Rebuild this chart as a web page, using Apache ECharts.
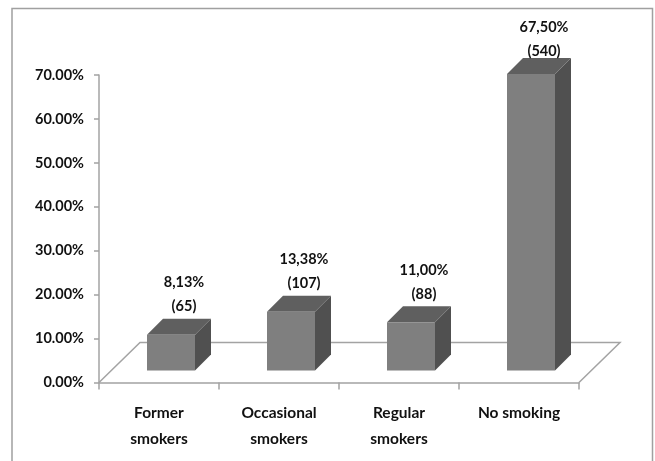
<!DOCTYPE html>
<html>
<head>
<meta charset="utf-8">
<style>html,body{margin:0;padding:0;background:#fff}#chart{width:655px;height:461px}</style>
<script src="https://cdn.jsdelivr.net/npm/echarts@6/dist/echarts.min.js"></script>
</head>
<body>
<div id="chart"></div>
<script>
// Smoking status of respondents: share of the sample and head count
const categories = ['Former\nsmokers', 'Occasional\nsmokers', 'Regular\nsmokers', 'No smoking'];
const shares = [8.13, 13.38, 11.00, 67.50];
const counts = [65, 107, 88, 540];
const shareLabels = ['8,13%', '13,38%', '11,00%', '67,50%'];

const FONT = 'Lato, "Open Sans", sans-serif';
const TEXT_SIZE = 15.5;
const NUMBER_SIZE = 14.5;
const INK = '#111111';
const RULE = '#a3a3a3';

// Pseudo-3D layout constants
const BAR_WIDTH = 48, BAR_DEPTH = 16, BAR_SHIFT_X = 12, BAR_LIFT = 12;
const FLOOR_DX = 41, FLOOR_DY = 40;

// Floor plane of the 3D box, drawn behind the columns
function renderFloor(params, api) {
  const c = params.coordSys;
  const bottom = c.y + c.height, right = c.x + c.width;
  return {
    type: 'polyline',
    shape: { points: [
      [c.x, bottom],
      [c.x + FLOOR_DX, bottom - FLOOR_DY],
      [right + FLOOR_DX, bottom - FLOOR_DY],
      [right, bottom]
    ] },
    style: { fill: 'none', stroke: RULE, lineWidth: 1.5 }
  };
}

// One extruded column with its two-line value label
function renderColumn(params, api) {
  const i = api.value(0);
  const value = api.value(1);
  const base = api.coord([i, 0]);
  const h = api.size([0, value])[1];
  const cx = base[0] + BAR_SHIFT_X;
  const x0 = cx - BAR_WIDTH / 2, x1 = cx + BAR_WIDTH / 2;
  const yb = base[1] - BAR_LIFT, yt = yb - h;
  const d = BAR_DEPTH;
  const line2 = Math.max(yt - d - 12, 51);
  const font = 'bold ' + NUMBER_SIZE + 'px ' + FONT;
  return {
    type: 'group',
    children: [
      { type: 'polygon', shape: { points: [[x1, yt], [x1 + d, yt - d], [x1 + d, yb - d], [x1, yb]] }, style: { fill: '#505050' } },
      { type: 'polygon', shape: { points: [[x0, yt], [x0 + d, yt - d], [x1 + d, yt - d], [x1, yt]] }, style: { fill: '#5f5f5f' } },
      { type: 'rect', shape: { x: x0, y: yt, width: BAR_WIDTH, height: h }, style: { fill: '#7f7f7f' } },
      { type: 'text', style: { x: cx + 13, y: line2 - 24, text: shareLabels[i], font: font, fill: INK, align: 'center', verticalAlign: 'middle' } },
      { type: 'text', style: { x: cx + 13, y: line2, text: '(' + counts[i] + ')', font: font, fill: INK, align: 'center', verticalAlign: 'middle' } }
    ]
  };
}

const chart = echarts.init(document.getElementById('chart'), null, { renderer: 'canvas' });
chart.setOption({
  animation: false,
  backgroundColor: '#fff',
  graphic: [{
    type: 'rect',
    shape: { x: 12, y: 8.5, width: 640.5, height: 470 },
    style: { fill: 'none', stroke: '#a0a0a0', lineWidth: 1.5 },
    silent: true
  }],
  grid: { left: 99, right: 76, top: 75, bottom: 78.5 },
  xAxis: {
    type: 'category',
    data: categories,
    axisLine: { lineStyle: { color: RULE, width: 1.5 } },
    axisTick: { show: true, alignWithLabel: false, length: 7, lineStyle: { color: RULE, width: 1.5 } },
    axisLabel: { color: INK, fontFamily: FONT, fontWeight: 'bold', fontSize: TEXT_SIZE, lineHeight: 26, margin: 17, interval: 0 }
  },
  yAxis: {
    type: 'value',
    min: 0,
    max: 70,
    interval: 10,
    splitLine: { show: false },
    axisLine: { show: true, lineStyle: { color: RULE, width: 1.5 } },
    axisTick: { show: true, length: 5, lineStyle: { color: RULE, width: 1.5 } },
    axisLabel: {
      color: INK, fontFamily: FONT, fontWeight: 'bold', fontSize: NUMBER_SIZE, margin: 15,
      formatter: v => v.toFixed(2) + '%'
    }
  },
  series: [
    { type: 'custom', renderItem: renderFloor, data: [[0, 0]], silent: true, z: 1, clip: false },
    { type: 'custom', renderItem: renderColumn, data: shares.map((v, i) => [i, v]), encode: { x: 0, y: 1 }, z: 2, clip: false }
  ]
});
</script>
</body>
</html>
